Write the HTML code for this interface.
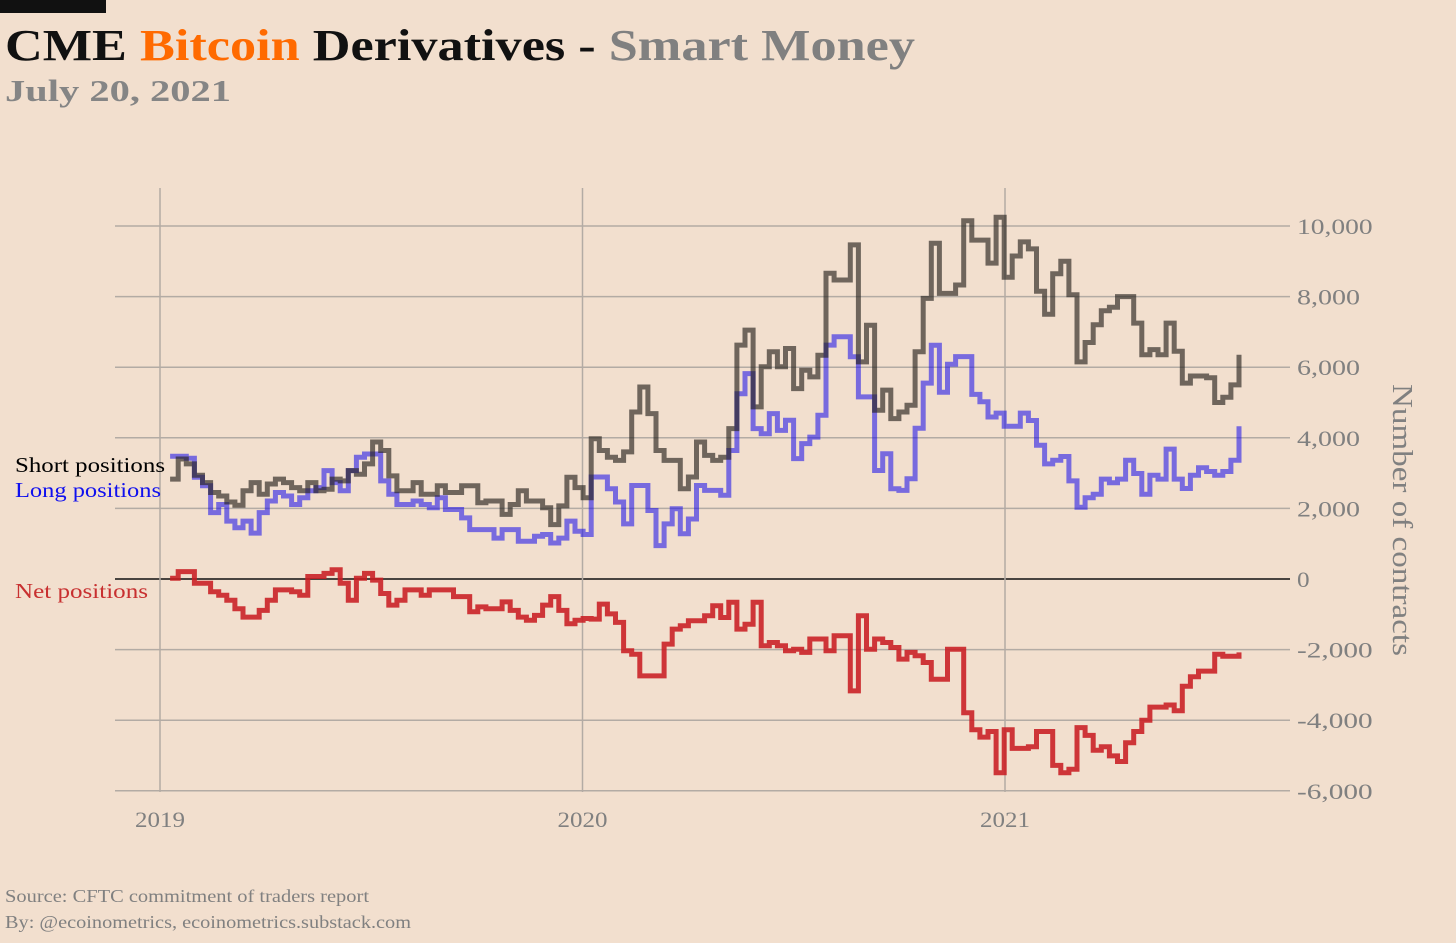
<!DOCTYPE html>
<html><head><meta charset="utf-8"><style>
html,body{margin:0;padding:0;background:#f2dfce;}
svg{display:block;}
text{font-family:"Liberation Serif",serif;}
</style></head><body>
<svg id="chart" width="1456" height="943" viewBox="0 0 1456 943" xmlns="http://www.w3.org/2000/svg">
<rect x="0" y="0" width="1456" height="943" fill="#f2dfce"/>
<rect x="0" y="0" width="106" height="13" fill="#111"/>
<text x="5" y="60" font-size="44" font-weight="bold" textLength="910" lengthAdjust="spacingAndGlyphs"><tspan fill="#111">CME </tspan><tspan fill="#ff6a00">Bitcoin</tspan><tspan fill="#111"> Derivatives - </tspan><tspan fill="#808080">Smart Money</tspan></text>
<text x="5" y="101" font-size="31" font-weight="bold" fill="#858585" textLength="226" lengthAdjust="spacingAndGlyphs">July 20, 2021</text>
<g id="grid"></g>
<g id="series"></g>
<g id="axes"></g>
<text x="15" y="472" font-size="21" fill="#000" textLength="150" lengthAdjust="spacingAndGlyphs">Short positions</text>
<text x="15" y="497" font-size="21" fill="#1010ee" textLength="146" lengthAdjust="spacingAndGlyphs">Long positions</text>
<text x="15" y="598" font-size="21" fill="#c83030" textLength="133" lengthAdjust="spacingAndGlyphs">Net positions</text>
<text transform="translate(1393,520) rotate(90)" text-anchor="middle" font-size="28" fill="#808080" textLength="272" lengthAdjust="spacingAndGlyphs">Number of contracts</text>
<text x="5" y="902" font-size="18" fill="#808080" textLength="364" lengthAdjust="spacingAndGlyphs">Source: CFTC commitment of traders report</text>
<text x="5" y="928" font-size="18" fill="#808080" textLength="406" lengthAdjust="spacingAndGlyphs">By: @ecoinometrics, ecoinometrics.substack.com</text>
</svg>
<script>
const yTicks = [-6000,-4000,-2000,0,2000,4000,6000,8000,10000];
const yTickLabels = ["-6,000","-4,000","-2,000","0","2,000","4,000","6,000","8,000","10,000"];
const xTicks = [2019,2020,2021];
const xTickLabels = ["2019","2020","2021"];
const startYear = 2019.024;
const weekYears = 7/365.25;
const shortPositions = [2830,3400,3260,2940,2730,2450,2350,2180,2090,2500,2730,2400,2690,2830,2730,2590,2500,2730,2500,2540,2830,2780,3070,2970,3260,3880,3640,2920,2500,2500,2730,2400,2400,2640,2450,2450,2640,2640,2160,2210,2210,1830,2110,2500,2210,2210,2020,1540,2070,2880,2590,2300,
3975,3640,3450,3360,3600,4730,5440,4685,3640,3360,3360,2555,2890,3880,3500,3360,3450,4260,6625,7050,4875,6010,6435,6010,6530,5395,5915,5725,6340,8660,8470,8470,9465,6150,7190,4780,5350,4545,4730,4920,6435,7950,9510,8090,8090,8330,
10150,9600,9600,8950,10250,8550,9150,9550,9350,8150,7500,8650,9000,8050,6150,6700,7200,7600,7700,8000,8000,7250,6350,6500,6350,7250,6450,5550,5750,5750,5700,5000,5150,5500,6350];
const longPositions = [3480,3480,3420,2880,2640,1880,2110,1640,1450,1640,1300,1880,2210,2450,2350,2110,2300,2500,2590,3070,2730,2500,3070,3450,3540,3540,2780,2400,2110,2110,2210,2110,2020,2300,1970,1970,1730,1400,1400,1400,1160,1400,1400,1070,1070,1210,1260,1020,1160,1640,1350,1260,
2890,2890,2555,2180,1560,2650,2650,1940,945,1560,1990,1280,1700,2650,2510,2510,2370,3640,5250,5820,4260,4115,4685,4210,4495,3410,3835,4020,4640,6625,6860,6860,6295,5160,5160,3075,3550,2555,2510,2840,4270,5550,6620,5290,6085,6300,
6300,5230,5020,4590,4700,4325,4325,4700,4490,3790,3260,3365,3470,2780,2030,2300,2400,2830,2725,2830,3365,2990,2400,2940,2830,3680,2830,2565,2940,3150,3045,2940,3045,3365,4325];
const netPositions = [20,210,210,-120,-120,-360,-460,-600,-840,-1080,-1080,-890,-600,-310,-310,-360,-460,70,70,160,260,-120,-600,20,160,-30,-410,-740,-600,-310,-310,-460,-310,-310,-310,-500,-500,-930,-790,-840,-840,-650,-890,-1080,-1170,-1030,-740,-500,-890,-1270,-1170,-1120,
-1135,-710,-990,-1230,-2035,-2130,-2745,-2745,-2745,-1845,-1420,-1325,-1180,-1180,-1040,-760,-1090,-660,-1420,-1280,-660,-1890,-1800,-1890,-2035,-1990,-2080,-1700,-1700,-2035,-1610,-1610,-3170,-1040,-1990,-1700,-1800,-1940,-2270,-2080,-2175,-2365,-2840,-2840,-1990,-1990,
-3790,-4270,-4480,-4320,-5490,-4270,-4800,-4800,-4750,-4320,-4320,-5280,-5490,-5390,-4210,-4430,-4850,-4750,-5010,-5170,-4640,-4320,-4000,-3630,-3630,-3570,-3730,-3040,-2770,-2610,-2610,-2130,-2190,-2190,-2080];

const NS = "http://www.w3.org/2000/svg";
function xScale(yr){ return 160 + (yr - 2019) * 422.5; }
function yScale(v){ return 579 - v * 0.0353; }
function mk(tag, parent, attrs){ const e = document.createElementNS(NS, tag); for (const k in attrs) e.setAttribute(k, attrs[k]); parent.appendChild(e); return e; }

const grid = document.getElementById('grid');
const axes = document.getElementById('axes');
yTicks.forEach((t, i) => {
  const l = mk('line', grid, {x1:115, x2:1290, y1:yScale(t), y2:yScale(t), stroke: t === 0 ? '#111' : '#b3aba4', 'stroke-width': t === 0 ? 1.6 : 1.5});
  
  
  const tx = mk('text', axes, {x:1297, y:yScale(t) + 8, 'font-size':22, fill:'#808080', textLength: yTickLabels[i].length * 12.6, lengthAdjust:'spacingAndGlyphs'});
  tx.textContent = yTickLabels[i];
  
  
});
xTicks.forEach((t, i) => {
  const l = mk('line', grid, {x1:xScale(t), x2:xScale(t), y1:188, y2:792, stroke:'#b3aba4', 'stroke-width':1.5});
  
  
  const tx = mk('text', axes, {x:xScale(t), y:827, 'font-size':22, fill:'#808080', 'text-anchor':'middle', textLength:50, lengthAdjust:'spacingAndGlyphs'});
  tx.textContent = xTickLabels[i];
  
  
});

function stepPath(vals){
  let d = '';
  vals.forEach((v, i) => {
    const x = xScale(startYear + i * weekYears), y = yScale(v);
    if (i === 0) d += 'M' + x.toFixed(1) + ',' + y.toFixed(1);
    else d += 'H' + x.toFixed(1) + 'V' + y.toFixed(1);
  });
  return d;
}
const series = document.getElementById('series');
const pLong = mk('path', series, {d: stepPath(longPositions), fill:'none', stroke:'rgba(20,10,235,0.55)', 'stroke-width':5, 'stroke-linejoin':'miter'});


const pShort = mk('path', series, {d: stepPath(shortPositions), fill:'none', stroke:'rgba(40,35,30,0.65)', 'stroke-width':5, 'stroke-linejoin':'miter'});


const pNet = mk('path', series, {d: stepPath(netPositions), fill:'none', stroke:'rgba(200,30,35,0.88)', 'stroke-width':5, 'stroke-linejoin':'miter'});


</script>
</body></html>
